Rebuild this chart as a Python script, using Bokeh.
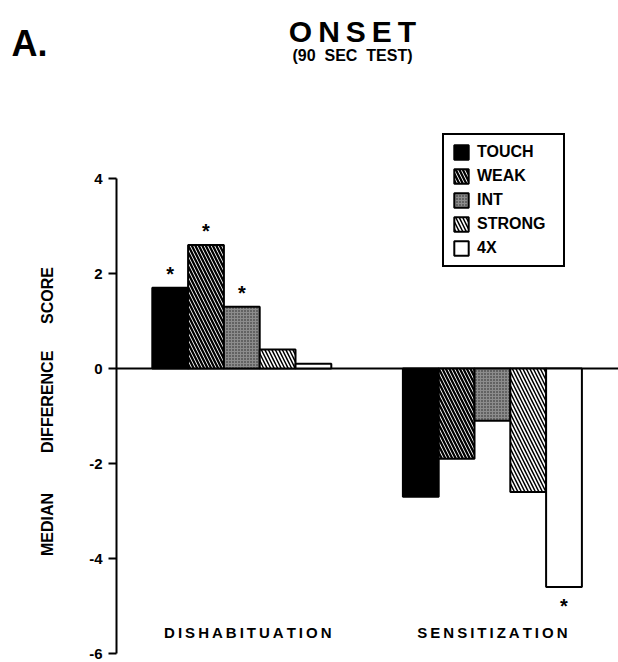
from bokeh.plotting import figure
from bokeh.models import Range1d, FixedTicker, Legend, LegendItem, Label, ColumnDataSource
from bokeh.core.properties import value
from bokeh.embed import file_html
from bokeh.resources import INLINE

# ---------------- data ----------------
groups = ["DISHABITUATION", "SENSITIZATION"]
series = ["TOUCH", "WEAK", "INT", "STRONG", "4X"]
dishabituation = [1.7, 2.6, 1.3, 0.4, 0.1]
sensitization = [-2.7, -1.9, -1.1, -2.6, -4.6]
sig_dishabituation = [True, True, True, False, False]
sig_sensitization = [False, False, False, False, True]
y_ticks = [-6, -4, -2, 0, 2, 4]
y_tick_labels = ["-6", "-4", "-2", "0", "2", "4"]
title_main = "ONSET"
title_sub = "(90 SEC TEST)"
panel_letter = "A."
y_label_words = ["MEDIAN", "DIFFERENCE", "SCORE"]

# ---------------- layout constants ----------------
W, H = 618, 662
AXIS_PX = 116           # pixel column of the y axis
BAR_PX = 35.8
PX_PER_UNIT = 47.5
Y_TOP_PX = 178          # pixel row of the value 4
group_centers = [3.5, 10.5]
FONT = "Liberation Sans"

def dx(px):
    return (px - AXIS_PX) / BAR_PX

def dy(py):
    return 4 - (py - Y_TOP_PX) / PX_PER_UNIT

def spaced(s, sep="\u2009"):
    return sep.join(list(s))

p = figure(width=W, height=H, output_backend="svg", toolbar_location=None,
           x_range=Range1d(dx(0), dx(W)), y_range=Range1d(dy(H), dy(0)),
           x_axis_location=None, min_border_left=0, min_border_right=0,
           min_border_top=0, min_border_bottom=0)
p.outline_line_color = None
p.grid.visible = False
p.background_fill_color = "white"

styles = {
    "TOUCH": dict(fill_color="black", hatch_pattern=None),
    "WEAK": dict(fill_color="white", hatch_pattern="left_diagonal_line", hatch_scale=7, hatch_weight=2.3),
    "INT": dict(fill_color="#8c8c8c", hatch_pattern="dot", hatch_scale=3, hatch_weight=1, hatch_color="#222222"),
    "STRONG": dict(fill_color="white", hatch_pattern="left_diagonal_line", hatch_scale=7, hatch_weight=1.5),
    "4X": dict(fill_color="white", hatch_pattern=None),
}

# baseline (zero line from the axis to the right edge)
p.segment(x0=[0], y0=[0], x1=[dx(W)], y1=[0], line_color="black", line_width=2)

items = []
for i, name in enumerate(series):
    xs = [c + (i - 2) for c in group_centers]
    tops = [dishabituation[i], sensitization[i]]
    src = ColumnDataSource(dict(x=xs, top=tops))
    st = dict(styles[name])
    kw = dict(fill_color=st.pop("fill_color"))
    hp = st.pop("hatch_pattern")
    if hp:
        kw["hatch_pattern"] = hp
        kw["hatch_color"] = st.pop("hatch_color", "black")
        kw.update(st)
    r = p.vbar(x="x", top="top", bottom=0, width=1, source=src,
               line_color="black", line_width=2, **kw)
    items.append(LegendItem(label=name, renderers=[r]))

# significance stars
sx, sy, soff = [], [], []
for i in range(len(series)):
    if sig_dishabituation[i]:
        sx.append(group_centers[0] + (i - 2)); sy.append(dishabituation[i]); soff.append(-14)
    if sig_sensitization[i]:
        sx.append(group_centers[1] + (i - 2)); sy.append(sensitization[i]); soff.append(19)
p.text(x=sx, y=sy, text=["*"] * len(sx), y_offset=soff, text_align="center",
       text_baseline="middle", text_font=value(FONT), text_font_style="bold",
       text_font_size="20px", text_color="black")

# group labels
p.text(x=group_centers, y=[dy(632)] * 2, text=[spaced(g) for g in groups],
       x_offset=[6, 0], text_align="center", text_baseline="middle", text_font=value(FONT),
       text_font_style="bold", text_font_size="15px", text_color="black")

# y axis, fixed at x = 0
ax = p.yaxis[0]
ax.fixed_location = 0
ax.bounds = (-6, 4)
ax.ticker = FixedTicker(ticks=y_ticks)
ax.major_label_overrides = {t: l for t, l in zip(y_ticks, y_tick_labels)}
ax.minor_tick_line_color = None
ax.major_tick_in = 0
ax.major_tick_out = 8
ax.major_tick_line_width = 2
ax.axis_line_width = 2
ax.major_label_standoff = 6
ax.major_label_text_font = FONT
ax.major_label_text_font_style = "bold"
ax.major_label_text_font_size = "15px"
ax.major_label_text_color = "black"
nb = "\u00a0"
ax.axis_label = nb * 2 + y_label_words[0] + nb * 9 + y_label_words[1] + nb * 6 + y_label_words[2]
ax.axis_label_text_font = FONT
ax.axis_label_text_font_style = "bold"
ax.axis_label_text_font_size = "16px"
ax.axis_label_text_color = "black"
ax.axis_label_standoff = 30

# legend
legend = Legend(items=items, location=(442, H - 267),
                border_line_color="black", border_line_width=2, border_line_alpha=1,
                background_fill_color="white", background_fill_alpha=1,
                glyph_width=18, glyph_height=18, label_height=18, spacing=6,
                padding=8, margin=0, label_standoff=7, label_width=78,
                label_text_font=FONT, label_text_font_style="bold",
                label_text_font_size="16px", label_text_color="black")
p.add_layout(legend)

# titles
p.add_layout(Label(x=dx(352), y=dy(31), text="\u2009".join(title_main), text_align="center",
                   text_baseline="alphabetic", text_font=FONT, text_font_style="bold",
                   text_font_size="30px", text_color="black"))
p.add_layout(Label(x=dx(352), y=dy(55), text=title_sub.replace(" ", "\u00a0\u00a0"), text_align="center",
                   text_baseline="alphabetic", text_font=FONT, text_font_style="bold",
                   text_font_size="16px", text_color="black"))
p.add_layout(Label(x=dx(11), y=dy(43), text=panel_letter, text_align="left",
                   text_baseline="alphabetic", text_font=FONT, text_font_style="bold",
                   text_font_size="36px", text_color="black"))

open("out.html", "w").write(file_html(p, INLINE))
